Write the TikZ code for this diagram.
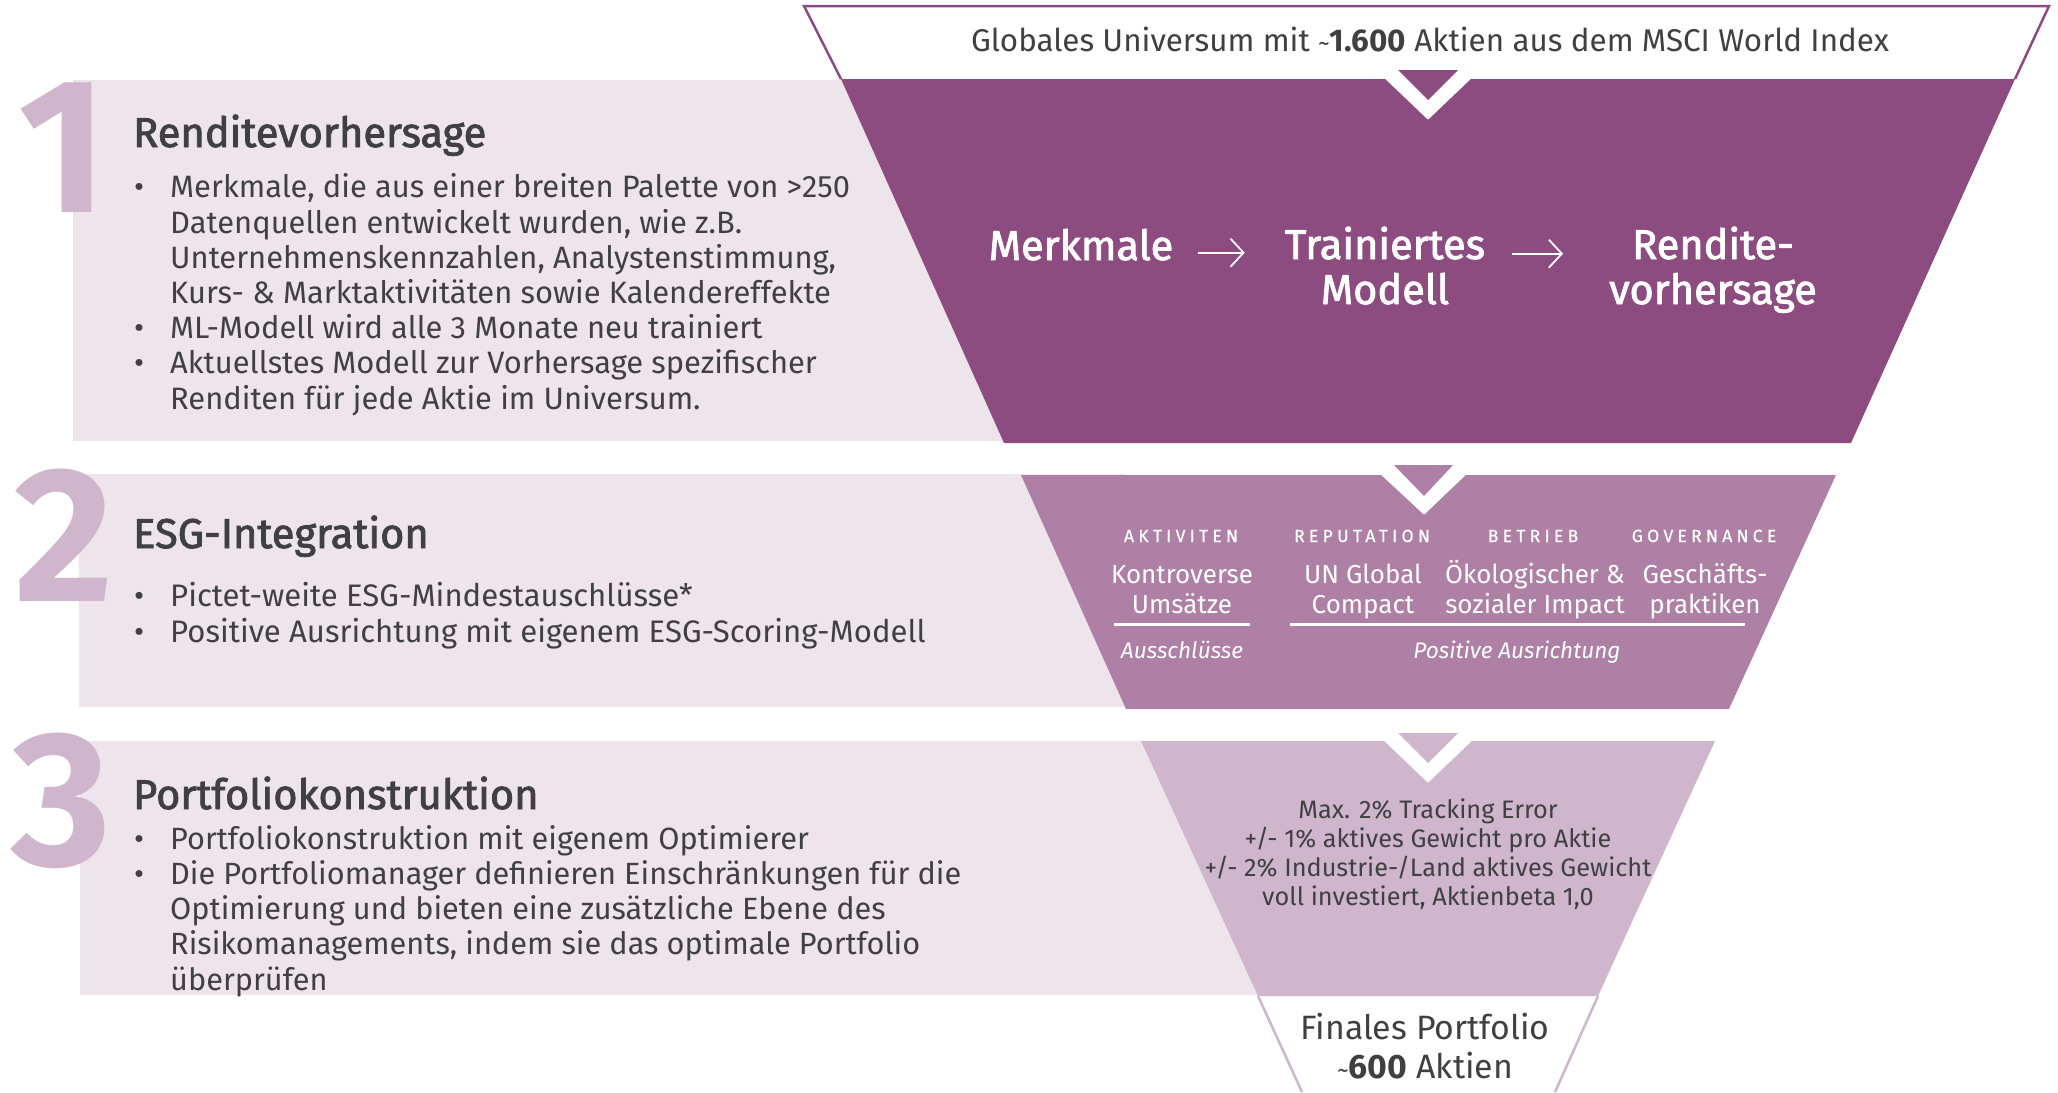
\documentclass[tikz,border=0pt]{standalone}
\usepackage{fontspec}
\setmainfont{Fira Sans}
\newfontfamily\medf[RawFeature={embolden=2}]{Fira Sans}
\newfontfamily\capsf[LetterSpace=24,RawFeature={embolden=0.6}]{Fira Sans}
\usetikzlibrary{arrows.meta,calc}
\definecolor{fdark}{HTML}{8C4C80}
\definecolor{fmid}{HTML}{AE80A5}
\definecolor{flight}{HTML}{CFB6CD}
\definecolor{fpale}{HTML}{EDE4EC}
\definecolor{ink}{HTML}{404042}
\newcommand\bul{\llap{\makebox[36pt][l]{\textbullet}}}
\newcommand\fs[2]{\fontsize{#1pt}{#2pt}\selectfont}
\tikzset{
  txt/.style={inner sep=0pt,text=ink,anchor=base},
  digit/.style={inner sep=0pt,text=flight,anchor=base,font=\fs{192}{192}\bfseries},
  heading/.style={txt,anchor=base west,font=\fs{41.6}{42}\medf},
  body/.style={txt,anchor=base west,align=left},
  white text/.style={inner sep=0pt,text=white,anchor=base,align=center},
  captext/.style={white text,font=\fs{17.6}{20}\capsf},
  esg/.style={white text,font=\fs{26}{29.5}},
  note/.style={white text,font=\fs{22.6}{26}\itshape},
  rulestyle/.style={draw=white,line width=3pt},
  flow/.style={draw=white,line width=2pt,-{Straight Barb[length=13pt,width=28pt,line width=1.8pt]}},
  notch/.style={fill=white,draw=white,line width=1pt,line join=round}
}
\begin{document}
\begin{tikzpicture}[x=1pt,y=-1pt]
\useasboundingbox (0,0) rectangle (2058,1092);
% pale bands
\fill[fpale] (73,80) rectangle (1004,441);
\fill[fpale] (79,474) rectangle (1126,707);
\fill[fpale] (80,741) rectangle (1258,995);
% numerals
\node[digit] (n1) at (63,212) {1};
\node[digit] (n2) at (64,601) {2};
\node[digit] (n3) at (61,865) {3};
% funnel
\draw[fdark,line width=2.5pt,fill=white] (841,79) -- (804,6) -- (2049,6) -- (2015,79);
\fill[fdark] (841,79) -- (2015,79) -- (1851,443) -- (1004,443) -- cycle;
\path[notch] (1385,78) -- (1471,78) -- (1428,119) -- cycle;
\fill[fdark] (1398,70) -- (1458,70) -- (1428,100) -- cycle;
\fill[fmid] (1021,475) -- (1836,475) -- (1729,709) -- (1126,709) -- cycle;
\path[notch] (1381,474) -- (1466,474) -- (1424,514) -- cycle;
\fill[fmid] (1394,465) -- (1453,465) -- (1424,496) -- cycle;
\fill[flight] (1141,741) -- (1715,741) -- (1598,996) -- (1258,996) -- cycle;
\path[notch] (1384,740) -- (1472,740) -- (1428,782) -- cycle;
\fill[flight] (1398,733) -- (1458,733) -- (1428,763) -- cycle;
\draw[flight,line width=2.5pt] (1258,996) -- (1302,1092);
\draw[flight,line width=2.5pt] (1598,996) -- (1555,1092);
% top and bottom captions
\node[txt,font=\fs{31.4}{35}] (top) at (1430,51) {Globales Universum mit {\fs{24}{35}\textasciitilde}\textbf{1.600} Aktien aus dem MSCI World Index};
\node[txt,align=center,font=\fs{33.8}{39}] (final) at (1425,1078) {Finales Portfolio\\{\fs{24}{39}\textasciitilde}\textbf{600} Aktien};
% section 1
\node[heading] (h1) at (133,147) {Renditevorhersage};
\node[body,font=\fs{30.9}{35.2}] (b1) at (170,409) {\bul Merkmale, die aus einer breiten Palette von >250\\
Datenquellen entwickelt wurden, wie z.B.\\
Unternehmenskennzahlen, Analystenstimmung,\\
Kurs- \& Marktaktivitäten sowie Kalendereffekte\\
\bul ML-Modell wird alle 3 Monate neu trainiert\\
\bul Aktuellstes Modell zur Vorhersage spezifischer\\
Renditen für jede Aktie im Universum.};
\node[white text,font=\fs{41.5}{45}\medf] (merk) at (1081,260) {Merkmale};
\node[white text,font=\fs{41.5}{45}\medf] (train) at (1385,304) {Trainiertes\\Modell};
\node[white text,font=\fs{41.5}{45}\medf] (rend) at (1713,304) {Rendite-\\vorhersage};
\draw[flow,shorten <=25pt,shorten >=40pt] ([yshift=-8pt]merk.east) -- ([yshift=-8pt]merk.east -| train.west);
\draw[flow,shorten <=27pt,shorten >=46pt] ([yshift=-9pt]merk.east -| train.east) -- ([yshift=-9pt]merk.east -| rend.west);
% section 2
\node[heading] (h2) at (133,548) {ESG-Integration};
\node[body,font=\fs{31.1}{35.2}] (b2) at (170,642) {\bul Pictet-weite ESG-Mindestauschlüsse*\\
\bul Positive Ausrichtung mit eigenem ESG-Scoring-Modell};
\node[captext] (c1) at (1181,542) {AKTIVITEN};
\node[captext] (c2) at (1362,542) {REPUTATION};
\node[captext] (c3) at (1533,542) {BETRIEB};
\node[captext] (c4) at (1704,542) {GOVERNANCE};
\node[esg] (e1) at (1182,613) {Kontroverse\\Umsätze};
\node[esg] (e2) at (1363,613) {UN Global\\Compact};
\node[esg] (e3) at (1535,613) {Ökologischer \&\\sozialer Impact};
\node[esg] (e4) at (1705,613) {Geschäfts-\\praktiken};
\coordinate (r1a) at (1114,624); \coordinate (r1b) at (1250,624);
\coordinate (r2a) at (1290,624); \coordinate (r2b) at (1745,624);
\draw[rulestyle] (r1a) -- (r1b);
\draw[rulestyle] (r2a) -- (r2b);
\node[note] (a1) at (1182,658) {Ausschlüsse};
\node[note] (a2) at (1517,658) {Positive Ausrichtung};
% section 3
\node[heading] (h3) at (133,809) {Portfoliokonstruktion};
\node[body,font=\fs{30.7}{35.2}] (b3) at (170,990) {\bul Portfoliokonstruktion mit eigenem Optimierer\\
\bul Die Portfoliomanager definieren Einschränkungen für die\\
Optimierung und bieten eine zusätzliche Ebene des\\
Risikomanagements, indem sie das optimale Portfolio\\
überprüfen};
\node[txt,align=center,font=\fs{25.3}{28.9}] (lim) at (1428,905) {Max. 2\% Tracking Error\\
+/- 1\% aktives Gewicht pro Aktie\\
+/- 2\% Industrie-/Land aktives Gewicht\\
voll investiert, Aktienbeta 1,0};
\end{tikzpicture}
\end{document}
